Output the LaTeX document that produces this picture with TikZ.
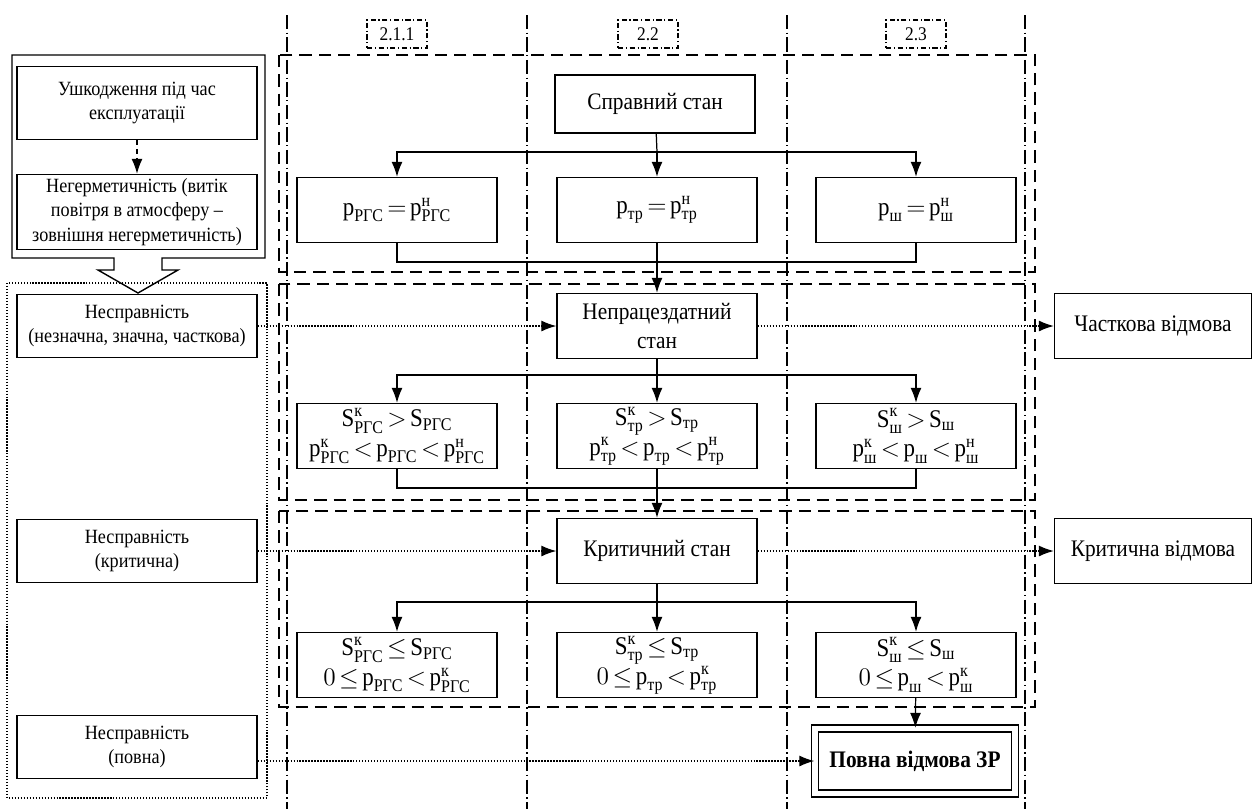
\documentclass[tikz,border=0pt]{standalone}
\usepackage{fontspec}
\setmainfont[FakeStretch=0.9]{Liberation Serif}
\usepackage{amsmath}
\usetikzlibrary{arrows.meta}
\newcommand{\qs}[2]{\text{#1}_{\text{#2}}}
\newcommand{\qk}[3]{\text{#1}^{\text{#2}}_{\text{#3}}}
\newcommand{\tightrel}{\thickmuskip=2.5mu\relax}
\tikzset{
 blk/.style={draw, line width=.8pt, align=center, inner sep=1pt, minimum width=4cm, minimum height=1.3cm, font=\fontsize{13.5}{16}\selectfont},
 lbox/.style={blk, minimum width=4.8cm, minimum height=1.26cm, font=\fontsize{11.5}{14}\selectfont},
 fbox/.style={blk, font=\fontsize{14.5}{17}\selectfont\tightrel},
 lbl/.style={draw, line width=.7pt, dash pattern=on 3pt off 1.5pt on .6pt off 1.5pt, minimum width=1.2cm, minimum height=.56cm, inner sep=1pt, font=\fontsize{11}{13}\selectfont},
 zone/.style={line width=.9pt, dash pattern=on 7pt off 4pt},
 dashdot/.style={line width=.6pt, dash pattern=on 8pt off 2pt on .8pt off 2pt},
 link/.style={line width=.7pt, -{Latex[length=3mm,width=2.2mm]}},
 dlink/.style={link, densely dotted}
}
\begin{document}
\begin{tikzpicture}[x=0.02cm, y=-0.02cm]
 \useasboundingbox (0,0) rectangle (1254,809);
 % columns and zones
 \foreach \x in {287,527,787,1025} \draw[dashdot] (\x,15)--(\x,809);
 \foreach \a/\b in {55/272,284/500,511/707} \draw[zone] (279,\a) rectangle (1035,\b);
 \foreach \x/\t [count=\i] in {397/2.1.1,648/2.2,916/2.3} \node[lbl, fill=white] (col\i) at (\x,34) {\t};
 % left part
 \draw[line width=.8pt] (12,55)--(265,55)--(265,258)--(162,258)--(162,270)--(178,270)--(138,293)--(98,270)--(114,270)--(114,258)--(12,258)--cycle;
 \draw[line width=.7pt, densely dotted] (7,283) rectangle (267,798);
 \node[lbox, minimum height=1.46cm] (dmg) at (137,103) {Ушкодження під час\\експлуатації};
 \node[lbox, minimum height=1.5cm] (leak) at (137,212) {Негерметичність (витік\\повітря в атмосферу --\\зовнішня негерметичність)};
 \draw[link, densely dashed] (dmg)--(leak);
 \node[lbox] (fault1) at (137,326) {Несправність\\(незначна, значна, часткова)};
 \node[lbox] (fault2) at (137,551) {Несправність\\(критична)};
 \node[lbox] (fault3) at (137,747) {Несправність\\(повна)};
 % states
 \node[blk, minimum height=1.16cm] (ok) at (655,104) {Справний стан};
 \node[fbox] (f1) at (397,210) {$\qs{p}{РГС}=\qk{p}{н}{РГС}$};
 \node[fbox] (f2) at (657,210) {$\qs{p}{тр}=\qk{p}{н}{тр}$};
 \node[fbox] (f3) at (916,210) {$\qs{p}{ш}=\qk{p}{н}{ш}$};
 \node[blk] (inop) at (657,326) {Непрацездатний\\стан};
 \node[fbox] (g1) at (397,436) {$\qk{S}{к}{РГС}>\qs{S}{РГС}$\\$\qk{p}{к}{РГС}<\qs{p}{РГС}<\qk{p}{н}{РГС}$};
 \node[fbox] (g2) at (657,436) {$\qk{S}{к}{тр}>\qs{S}{тр}$\\$\qk{p}{к}{тр}<\qs{p}{тр}<\qk{p}{н}{тр}$};
 \node[fbox] (g3) at (916,436) {$\qk{S}{к}{ш}>\qs{S}{ш}$\\$\qk{p}{к}{ш}<\qs{p}{ш}<\qk{p}{н}{ш}$};
 \node[blk] (crit) at (657,551) {Критичний стан};
 \node[fbox] (h1) at (397,665) {$\qk{S}{к}{РГС}\le\qs{S}{РГС}$\\$0\le\qs{p}{РГС}<\qk{p}{к}{РГС}$};
 \node[fbox] (h2) at (657,665) {$\qk{S}{к}{тр}\le\qs{S}{тр}$\\$0\le\qs{p}{тр}<\qk{p}{к}{тр}$};
 \node[fbox] (h3) at (916,665) {$\qk{S}{к}{ш}\le\qs{S}{ш}$\\$0\le\qs{p}{ш}<\qk{p}{к}{ш}$};
 \node[blk, double, double distance=3pt, font=\fontsize{13.5}{16}\selectfont\bfseries] (full) at (915,761) {Повна відмова ЗР};
 \node[blk, minimum width=3.94cm] (part) at (1153,326) {Часткова відмова};
 \node[blk, minimum width=3.94cm] (critfail) at (1153,551) {Критична відмова};
 % branches
 \coordinate (s1) at (657,152); \coordinate (m1) at (657,262);
 \coordinate (s2) at (657,375); \coordinate (m2) at (657,488);
 \coordinate (s3) at (657,602);
 \draw[line width=.7pt] (ok)--(s1);
 \foreach \n in {f1,f2,f3} \draw[link] (s1)-|(\n);
 \draw[line width=.7pt] (f1)|-(m1)-|(f3) (f2)--(m1);
 \draw[link] (m1)--(inop);
 \draw[line width=.7pt] (inop)--(s2);
 \foreach \n in {g1,g2,g3} \draw[link] (s2)-|(\n);
 \draw[line width=.7pt] (g1)|-(m2)-|(g3) (g2)--(m2);
 \draw[link] (m2)--(crit);
 \draw[line width=.7pt] (crit)--(s3);
 \foreach \n in {h1,h2,h3} \draw[link] (s3)-|(\n);
 \draw[link] (h3)--(full);
 % faults to states
 \draw[dlink] (fault1)--(inop);
 \draw[dlink] (inop)--(part);
 \draw[dlink] (fault2)--(crit);
 \draw[dlink] (crit)--(critfail);
 \draw[dlink] (fault3.east |- full)--(full);
\end{tikzpicture}
\end{document}
